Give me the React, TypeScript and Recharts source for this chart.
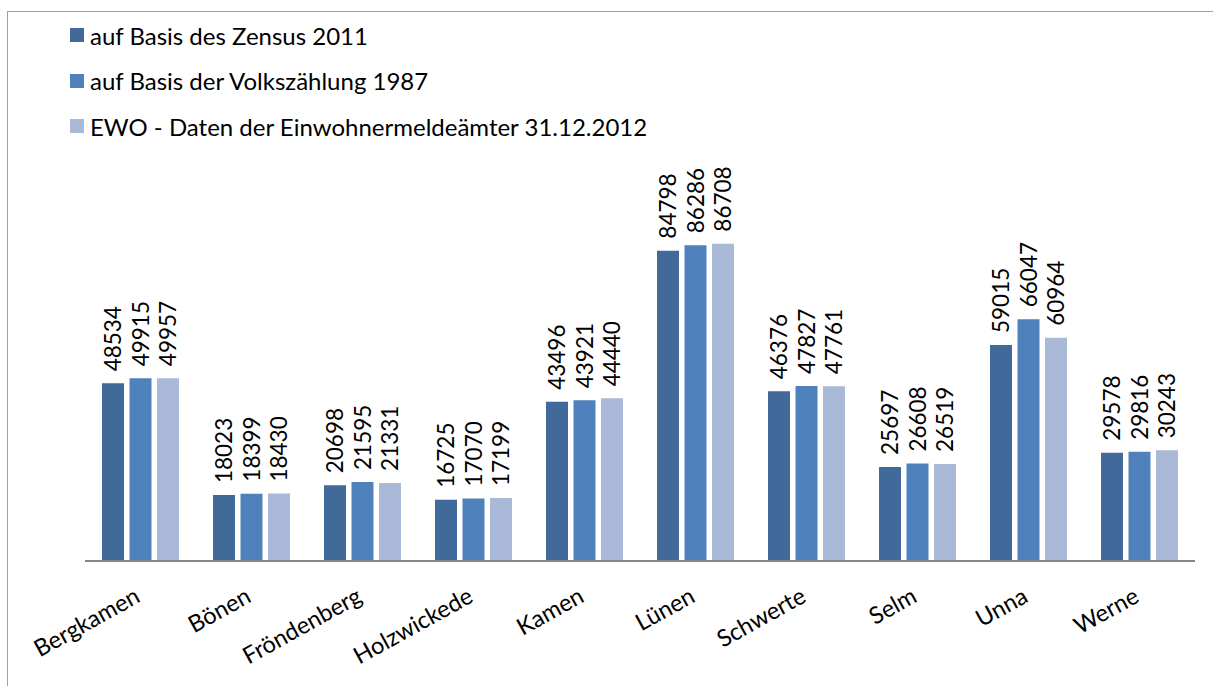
import React from 'react'
import { BarChart, Bar, XAxis, YAxis, LabelList } from 'recharts'

const CITIES = ['Bergkamen', 'Bönen', 'Fröndenberg', 'Holzwickede', 'Kamen', 'Lünen', 'Schwerte', 'Selm', 'Unna', 'Werne']
const ZENSUS_2011 = [48534, 18023, 20698, 16725, 43496, 84798, 46376, 25697, 59015, 29578]
const VZ_1987 = [49915, 18399, 21595, 17070, 43921, 86286, 47827, 26608, 66047, 29816]
const EWO_2012 = [49957, 18430, 21331, 17199, 44440, 86708, 47761, 26519, 60964, 30243]

const SERIES = [
  { key: 'zensus', name: 'auf Basis des Zensus 2011', color: '#416a9b' },
  { key: 'vz', name: 'auf Basis der Volkszählung 1987', color: '#4f81bd' },
  { key: 'ewo', name: 'EWO - Daten der Einwohnermeldeämter 31.12.2012', color: '#aab9d7' },
]

const FONT = 'Lato, "Noto Sans", sans-serif'

const data = CITIES.map((city, i) => ({
  city,
  zensus: ZENSUS_2011[i],
  vz: VZ_1987[i],
  ewo: EWO_2012[i],
}))

function CityTick(props: any) {
  const { x, y, payload } = props
  return (
    <g transform={`translate(${x + 1},${y + 32})`}>
      <text transform="rotate(-29)" textAnchor="end" fill="#000" fontSize={23.5} fontFamily={FONT}>
        {payload.value}
      </text>
    </g>
  )
}

function ValueLabel(props: any) {
  const { x, y, width, value } = props
  const cx = x + width / 2
  const ty = y - 12
  return (
    <text
      transform={`translate(${cx},${ty}) rotate(-90)`}
      textAnchor="start"
      dy="0.36em"
      fill="#000"
      fontSize={22.5}
      fontFamily={FONT}
    >
      {value}
    </text>
  )
}

function LegendBox() {
  return (
    <div style={{ position: 'absolute', left: 70, top: 12.5, fontFamily: FONT, fontSize: 24, color: '#000' }}>
      {SERIES.map(s => (
        <div key={s.key} style={{ display: 'flex', alignItems: 'center', height: 45.5, whiteSpace: 'nowrap' }}>
          <span style={{ width: 14, height: 14, background: s.color, marginRight: 6, display: 'inline-block' }} />
          <span>{s.name}</span>
        </div>
      ))}
    </div>
  )
}

export default function App() {
  return (
    <div style={{ position: 'absolute', left: 0, top: 0, width: 1213, height: 686, overflow: 'hidden', background: '#fff' }}>
      <div
        style={{
          position: 'absolute',
          left: 7,
          top: 11,
          width: 1400,
          height: 800,
          border: '1.5px solid #a0a0a0',
        }}
      />
      <div style={{ position: 'absolute', left: 0, top: 0 }}>
        <BarChart
          width={1213}
          height={686}
          data={data}
          margin={{ top: 195, right: 18, bottom: 0, left: 85 }}
          barSize={22}
          barGap={5.5}
        >
          <XAxis
            dataKey="city"
            height={125}
            axisLine={{ stroke: '#868686', strokeWidth: 2 }}
            tickLine={false}
            interval={0}
            tick={<CityTick />}
          />
          <YAxis hide domain={[0, 100000]} />
          {SERIES.map(s => (
            <Bar key={s.key} dataKey={s.key} name={s.name} fill={s.color} isAnimationActive={false}>
              <LabelList dataKey={s.key} content={<ValueLabel />} />
            </Bar>
          ))}
        </BarChart>
      </div>
      <LegendBox />
    </div>
  )
}
